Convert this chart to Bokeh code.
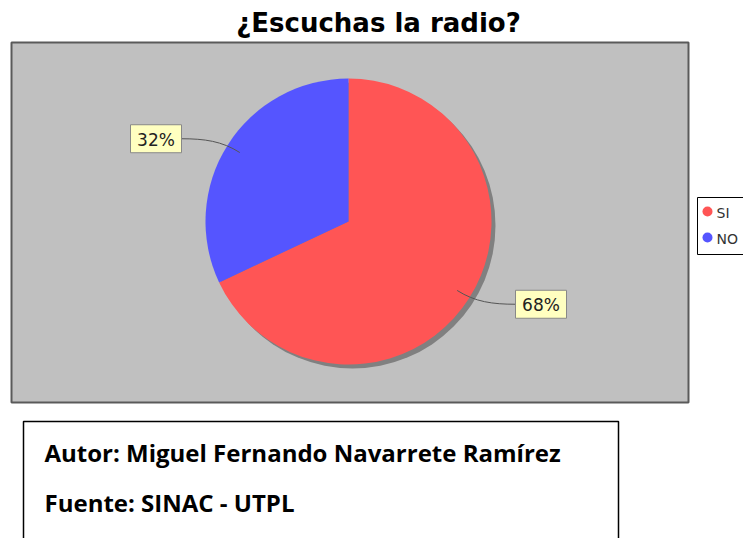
import numpy as np
from bokeh.plotting import figure
from bokeh.models import Range1d
from bokeh.core.properties import value
from bokeh.embed import file_html
from bokeh.resources import INLINE

# ---- data ----
title = "¿Escuchas la radio?"
categories = ["SI", "NO"]
percentages = [68, 32]
colors = ["#FF5555", "#5555FF"]
credits = ["Autor: Miguel Fernando Navarrete Ramírez", "Fuente: SINAC - UTPL"]

# ---- canvas in reference pixel units ----
W, H = 743, 538
p = figure(width=W, height=H, x_range=Range1d(0, W), y_range=Range1d(H, 0),
           output_backend="svg", toolbar_location=None, min_border=0)
p.axis.visible = False
p.grid.visible = False
p.outline_line_color = None
p.background_fill_color = "white"
p.border_fill_color = "white"

# title
p.text(x=[378], y=[22], text=[title], text_align="center", text_baseline="middle",
       text_font=value("DejaVu Sans"), text_font_style="bold", text_font_size="26px",
       text_color="black")

# plot area
p.quad(left=[11], right=[688], top=[42], bottom=[402], fill_color="#C0C0C0",
       line_color="#5A5A5A", line_width=2)

# pie
cx, cy, r = 348, 221, 143
vals = np.array(percentages, dtype=float)
frac = vals / vals.sum()
cum = np.concatenate([[0], np.cumsum(frac)]) * 2 * np.pi
a0 = np.pi / 2 - cum[:-1]
a1 = np.pi / 2 - cum[1:]
mid = (a0 + a1) / 2

p.circle(x=[cx + 4], y=[cy + 4], radius=r, fill_color="#808080", line_color=None)
p.wedge(x=cx, y=cy, radius=r, start_angle=a1, end_angle=a0, fill_color=colors,
        line_color=None)

# labels with curved links
bw, bh = 51, 28
for m, v in zip(mid, percentages):
    c, s = np.cos(m), np.sin(m)
    ax, ay = cx + 0.9 * r * c, cy - 0.9 * r * s
    ex, ey = cx + 1.05 * r * c, cy - 1.05 * r * s
    side = 1 if c >= 0 else -1
    lx = cx + side * (r + 24)
    ly = cy - 1.08 * r * s
    p.bezier(x0=[lx], y0=[ly], x1=[ax], y1=[ay], cx0=[lx - side * 23], cy0=[ly],
             cx1=[ex], cy1=[ey], line_color="#555555", line_width=1)
    left = lx if side > 0 else lx - bw
    p.quad(left=[left], right=[left + bw], top=[ly - bh / 2], bottom=[ly + bh / 2],
           fill_color="#FFFFC0", line_color="#888888", line_width=1)
    p.text(x=[left + bw / 2], y=[ly + 1], text=[f"{v}%"], text_align="center",
           text_baseline="middle", text_font=value("DejaVu Sans"),
           text_font_size="17px", text_color="#222222")

# legend
p.quad(left=[697], right=[760], top=[197], bottom=[254], fill_color="white",
       line_color="black", line_width=1)
for i, (cat, col) in enumerate(zip(categories, colors)):
    yy = 211 + 26 * i
    p.scatter(x=[707], y=[yy], size=10, marker="circle", fill_color=col, line_color=None)
    p.text(x=[716], y=[yy + 1], text=[cat], text_baseline="middle",
           text_font=value("DejaVu Sans"), text_font_size="14px", text_color="#333333")

# credits box
p.quad(left=[23], right=[618], top=[421], bottom=[560], fill_color=None,
       line_color="black", line_width=1.5)
for i, t in enumerate(credits):
    p.text(x=[44], y=[452 + 50 * i], text=[t], text_baseline="middle",
           text_font=value("Open Sans"), text_font_style="bold", text_font_size="24px",
           text_color="black")

open("out.html", "w").write(file_html(p, INLINE))
